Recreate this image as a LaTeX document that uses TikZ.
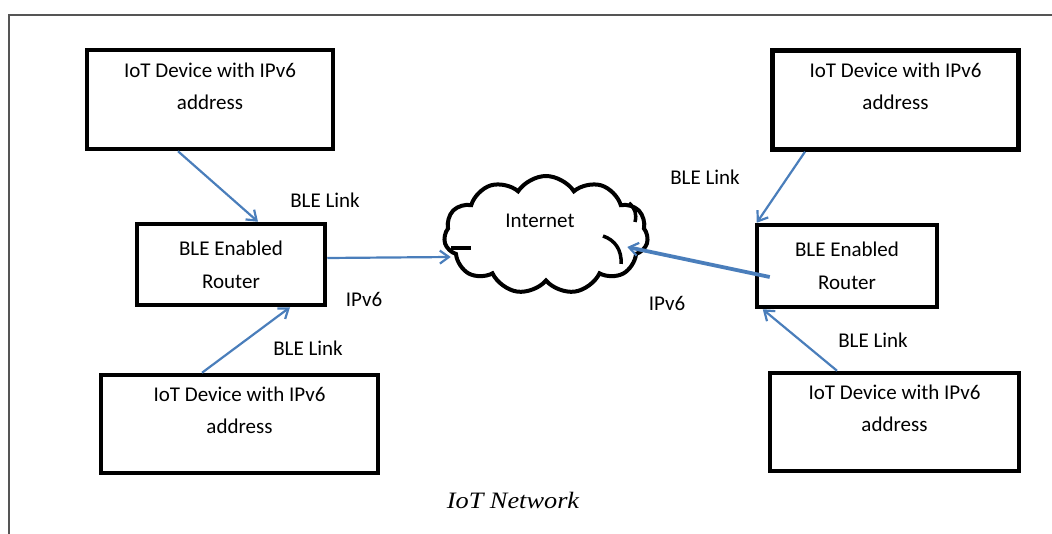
\documentclass[tikz,border=0pt]{standalone}
\usepackage{fontspec}
\setmainfont{Carlito}
\newfontfamily\capfont[FakeStretch=1.12]{Liberation Serif}
\usetikzlibrary{shapes.symbols,arrows.meta}
\definecolor{linkblue}{HTML}{4A7EBB}
\definecolor{framegray}{HTML}{555555}
\tikzset{
  box/.style={draw=black,line width=4.5pt,fill=none,inner sep=0pt},
  devbox/.style={box,minimum width=246pt,minimum height=99pt},
  rtbox/.style={box,minimum width=188pt,minimum height=81pt,align=center,
     font=\fontsize{21}{33}\selectfont},
  boxtext/.style={align=center,font=\fontsize{21}{32}\selectfont,inner sep=0pt},
  lbl/.style={font=\fontsize{21}{25}\selectfont,inner sep=0pt},
  link/.style={draw=linkblue,line width=2.2pt,-{Straight Barb[length=9pt,width=13pt,line width=2.2pt]}},
  inetlink/.style={link,line width=3.8pt},
  netcloud/.style={cloud,draw=black,line width=4pt,cloud puffs=11,cloud puff arc=115,
     aspect=1.74,minimum width=204pt,minimum height=118pt,inner sep=0pt},
}
\begin{document}
\begin{tikzpicture}[x=1pt,y=-1pt]
\useasboundingbox (0,0) rectangle (1052,534);
% frame
\draw[framegray,line width=1.5pt] (9,534) -- (9,15) -- (1052,15);

% boxes
\node[devbox] (d1) at (210,99.5) {};
\node[boxtext,anchor=north] (t1) at (210,63) {IoT Device with IPv6\\address};
\node[devbox] (d2) at (895.5,100) {};
\node[boxtext,anchor=north] (t2) at (895.5,63) {IoT Device with IPv6\\address};
\node[devbox,minimum width=277pt,minimum height=98pt] (d3) at (239.5,424) {};
\node[boxtext,anchor=north] (t3) at (239.5,387) {IoT Device with IPv6\\address};
\node[devbox,minimum width=249pt,minimum height=98pt] (d4) at (894.5,422) {};
\node[boxtext,anchor=north] (t4) at (894.5,385) {IoT Device with IPv6\\address};

\node[rtbox] (r1) at (231,264.5) {BLE Enabled\\Router};
\node[rtbox,minimum width=180pt,minimum height=82pt] (r2) at (847,266) {BLE Enabled\\Router};

% cloud
\node[netcloud] (cl) at (546,235) {};
\node[lbl] (inet) at (540,221) {Internet};
\draw[line width=3.5pt] (451,248) -- (471,248);
\draw[line width=3.5pt] (603,236) .. controls (615,240) and (622,250) .. (621,264);
\draw[line width=3.5pt] (629,203) .. controls (635,208) and (637,214) .. (635,222);

% connectors
\draw[link] ([xshift=-32pt]d1.south) -- ([xshift=27pt]r1.north);
\draw[link] ([xshift=-37.5pt]d3.north) -- ([xshift=59pt]r1.south);
\draw[link] ([yshift=6.5pt]r1.east) -- ([xshift=8pt,yshift=-22pt]cl.west);
\draw[link] ([xshift=-90.5pt]d2.south) -- ([xshift=2pt]r2.north west);
\draw[link] ([xshift=-57.5pt]d4.north) -- ([xshift=8pt]r2.south west);
\draw[inetlink] ([xshift=15pt,yshift=-11pt]r2.west) -- ([xshift=-22pt,yshift=-12pt]cl.east);

% labels
\node[lbl] (l1) at (325,200) {BLE Link};
\node[lbl] (l2) at (364,299) {IPv6};
\node[lbl] (l3) at (308,348) {BLE Link};
\node[lbl] (l4) at (705,177) {BLE Link};
\node[lbl] (l5) at (667,303) {IPv6};
\node[lbl] (l6) at (873,340) {BLE Link};

\node[inner sep=0pt,font=\capfont\itshape\fontsize{23.5}{28}\selectfont] (cap) at (513,500) {IoT Network};
\end{tikzpicture}
\end{document}
